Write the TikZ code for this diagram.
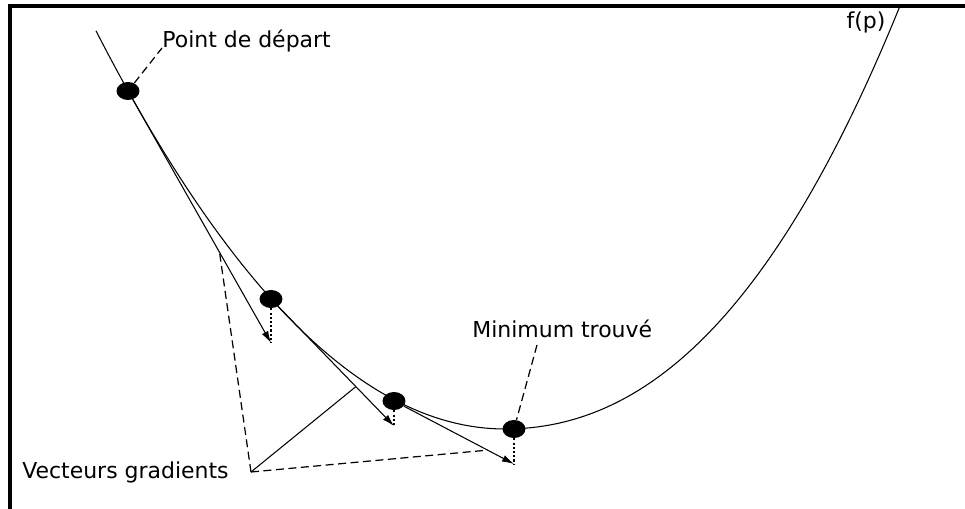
\documentclass[tikz,border=0pt]{standalone}
\usepackage{fontspec}
\setmainfont{DejaVu Sans}
\usetikzlibrary{shapes.geometric,arrows.meta,calc}
\tikzset{
  frameline/.style={line width=1.8pt},
  curveline/.style={line width=0.6pt},
  iterdot/.style={ellipse, fill=black, minimum width=0.46cm, minimum height=0.36cm, inner sep=0pt},
  gradvec/.style={line width=0.6pt, -{Latex[length=2.4mm,width=1.4mm]}},
  dropline/.style={line width=0.8pt, dash pattern=on 1.2pt off 1.2pt},
  leader/.style={line width=0.7pt, dash pattern=on 1.6mm off 0.9mm},
  lbl/.style={font=\fontsize{12.5}{14}\selectfont, inner sep=0pt},
}

\begin{document}
\begin{tikzpicture}[x=0.02cm, y=-0.02cm]
  \useasboundingbox (0,0) rectangle (965,509);
  \draw[frameline] (10,509) -- (10,6) -- (965,6);
  \draw[curveline, domain=-4.09:0, samples=60] plot ({505+100*\x}, {429-23.8*\x*\x});
  \draw[curveline, domain=0:3.95, samples=60] plot ({505+100*\x}, {429-18.94*\x*\x-2.07*\x*\x*\x});
  \node[iterdot] (p0) at (128,91) {};
  \node[iterdot] (p1) at (271,299) {};
  \node[iterdot] (p2) at (394,401) {};
  \node[iterdot] (p3) at (514,429) {};
  \coordinate (tip0) at (271,343);
  \coordinate (tip1) at (394,426);
  \coordinate (tip2) at (514,464);
  \draw[gradvec] (p0) -- (tip0);
  \draw[gradvec] (p1) -- (tip1);
  \draw[gradvec] (p2) -- (tip2);
  \draw[dropline] (p1) -- (tip0);
  \draw[dropline] (p2) -- (tip1);
  \draw[dropline] (p3) -- (tip2);
  \node[lbl, anchor=base west] (start) at (162,48) {Point de départ};
  \node[lbl, anchor=base west] (found) at (472,338) {Minimum trouvé};
  \node[lbl, anchor=base east] (grads) at (229,479) {Vecteurs gradients};
  \node[lbl] (fp) at (866,22) {f(p)};
  \coordinate (foundfoot) at (537,345);
  \coordinate (gradfoot) at (251,472);
  \draw[leader] (p0) -- (start.base west);
  \draw[leader] (foundfoot) -- (p3);
  \draw[leader] (gradfoot) -- ($(p0)!0.64!(tip0)$);
  \draw[curveline] (gradfoot) -- ($(p1)!0.69!(tip1)$);
  \draw[leader] (gradfoot) -- ($(p2)!0.78!(tip2)$);
\end{tikzpicture}
\end{document}
